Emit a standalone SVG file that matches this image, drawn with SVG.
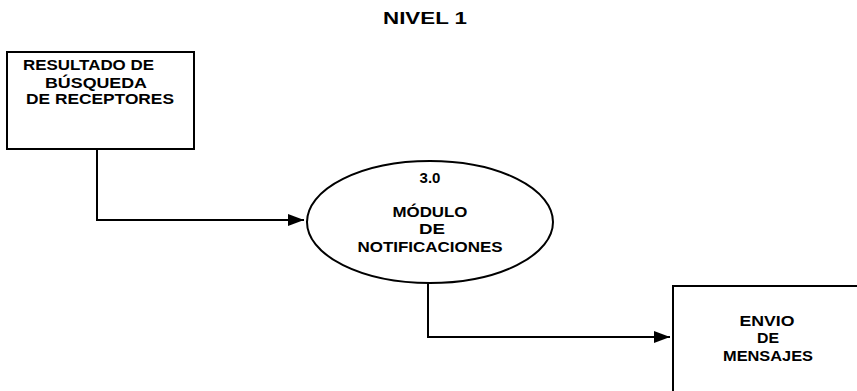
<svg xmlns="http://www.w3.org/2000/svg" width="857" height="391" viewBox="0 0 857 391">
  <style>
    .t { font-family: "Liberation Sans", Arial, sans-serif; font-weight: bold; font-size: 15px; fill: #000; }
    .title { font-family: "Liberation Sans", Arial, sans-serif; font-weight: bold; font-size: 17px; fill: #000; }
    .shape { fill: #fff; stroke: #000; stroke-width: 2; }
    .conn { fill: none; stroke: #000; stroke-width: 2; }
  </style>
  <defs>
    <marker id="ah" markerWidth="16" markerHeight="12" refX="16" refY="6" orient="auto" markerUnits="userSpaceOnUse">
      <path d="M0,0 L16,6 L0,12 z" fill="#000"/>
    </marker>
  </defs>
  <rect width="857" height="391" fill="#fff"/>
  <text class="title" x="383" y="24" textLength="84" lengthAdjust="spacingAndGlyphs">NIVEL 1</text>

  <g id="connectors">
    <path class="conn" d="M97,149 V220 H304" marker-end="url(#ah)"/>
    <path class="conn" d="M428,283 V337 H670" marker-end="url(#ah)"/>
  </g>

  <g id="resultado">
    <rect class="shape" x="7" y="52" width="187" height="97"/>
    <text class="t" x="23" y="70" textLength="131" lengthAdjust="spacingAndGlyphs">RESULTADO DE</text>
    <text class="t" x="45" y="88" textLength="102" lengthAdjust="spacingAndGlyphs">BÚSQUEDA</text>
    <text class="t" x="26" y="104" textLength="148" lengthAdjust="spacingAndGlyphs">DE RECEPTORES</text>
  </g>

  <g id="modulo">
    <ellipse class="shape" cx="430" cy="222" rx="123" ry="61"/>
    <text class="t" x="430" y="183" text-anchor="middle">3.0</text>
    <text class="t" x="430" y="217" text-anchor="middle" textLength="75" lengthAdjust="spacingAndGlyphs">MÓDULO</text>
    <text class="t" x="432" y="234" text-anchor="middle" textLength="26" lengthAdjust="spacingAndGlyphs">DE</text>
    <text class="t" x="430" y="252" text-anchor="middle" textLength="145" lengthAdjust="spacingAndGlyphs">NOTIFICACIONES</text>
  </g>

  <g id="envio">
    <rect class="shape" x="673" y="286" width="200" height="120"/>
    <text class="t" x="767" y="326" text-anchor="middle" textLength="55" lengthAdjust="spacingAndGlyphs">ENVIO</text>
    <text class="t" x="768" y="343" text-anchor="middle" textLength="22" lengthAdjust="spacingAndGlyphs">DE</text>
    <text class="t" x="768" y="361" text-anchor="middle" textLength="90" lengthAdjust="spacingAndGlyphs">MENSAJES</text>
  </g>
</svg>
